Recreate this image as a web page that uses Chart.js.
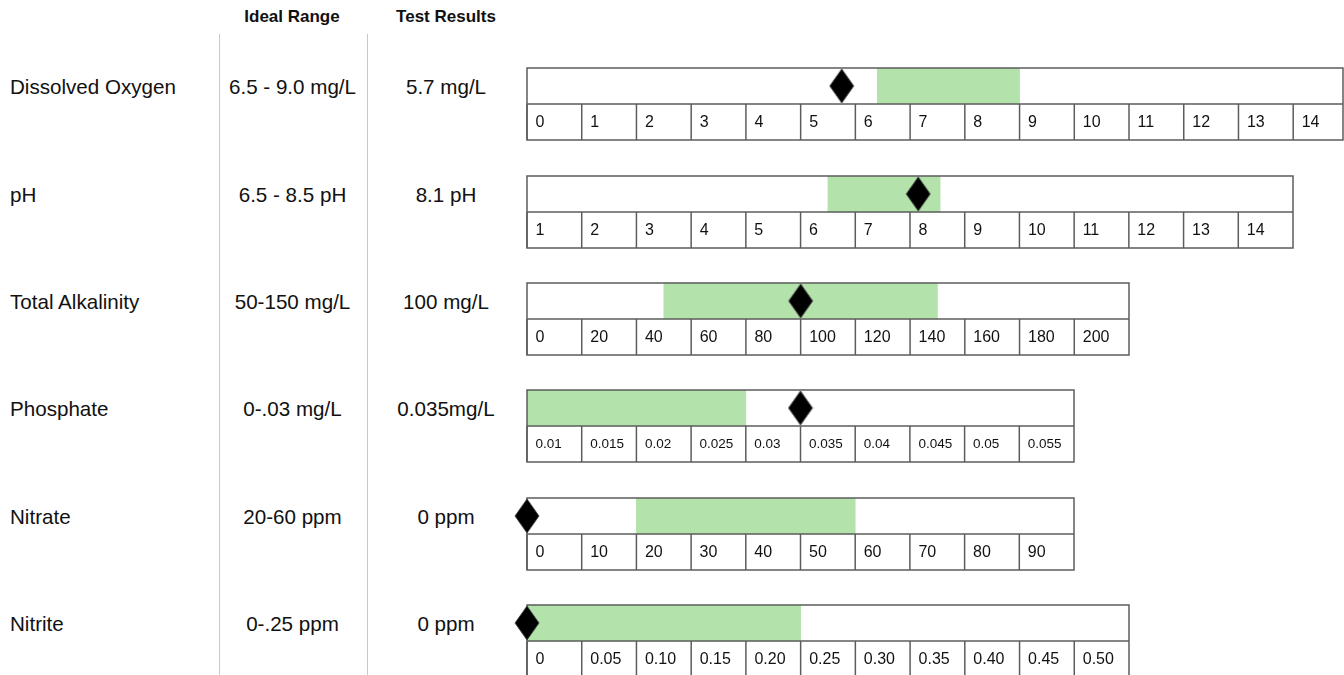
<!DOCTYPE html>
<html><head><meta charset="utf-8">
<script src="https://cdn.jsdelivr.net/npm/chart.js@4"></script>
<style>
html,body{margin:0;padding:0;width:1344px;height:675px;overflow:hidden;background:#fff;font-family:"Liberation Sans",Arial,Helvetica,sans-serif;color:#111;}
.t{position:absolute;white-space:nowrap;height:30px;line-height:30px;}
.c{transform:translateX(-50%);}
.h{font-weight:bold;font-size:17px;}
.r{font-size:20.6px;}
.vl{position:absolute;width:1px;background:#c8c8c8;top:34px;height:641px;}
.g{position:absolute;}
</style></head><body>
<div id="root"></div>
<script>
// ---- data ----
const headers = ['Ideal Range', 'Test Results'];
const rowNames = ['Dissolved Oxygen', 'pH', 'Total Alkalinity', 'Phosphate', 'Nitrate', 'Nitrite'];
const idealRangeText = ['6.5 - 9.0 mg/L', '6.5 - 8.5 pH', '50-150 mg/L', '0-.03 mg/L', '20-60 ppm', '0-.25 ppm'];
const testResultText = ['5.7 mg/L', '8.1 pH', '100 mg/L', '0.035mg/L', '0 ppm', '0 ppm'];
const idealLow  = [6.4, 6.5, 50, 0, 20, 0];
const idealHigh = [9.0, 8.55, 150, 0.03, 60, 0.25];
const testValues = [5.75, 8.15, 100, 0.035, 0, 0];
const doTicks = ['0','1','2','3','4','5','6','7','8','9','10','11','12','13','14'];
const phTicks = ['1','2','3','4','5','6','7','8','9','10','11','12','13','14'];
const alkTicks = ['0','20','40','60','80','100','120','140','160','180','200'];
const phosTicks = ['0.01','0.015','0.02','0.025','0.03','0.035','0.04','0.045','0.05','0.055'];
const nitrateTicks = ['0','10','20','30','40','50','60','70','80','90'];
const nitriteTicks = ['0','0.05','0.10','0.15','0.20','0.25','0.30','0.35','0.40','0.45','0.50'];
const scaleMin = [0, 1, 0, 0.01, 0, 0];
const scaleMax = [14.91, 15, 220, 0.06, 100, 0.55];
const tickSets = [doTicks, phTicks, alkTicks, phosTicks, nitrateTicks, nitriteTicks];

// ---- layout ----
const CELL_W = 54.7, BOX_LEFT = 527, PAD = 16, BOX_H = 72;
const ROW_TOPS = [67.5, 176, 283, 389.5, 497.5, 605];
const TICK_FONT = [16, 16, 16, 13.5, 16, 16];
const GREEN = '#b3e2aa', LINE = '#5c5c5c';

const root = document.getElementById('root');
function addText(txt, cls, left, cy) {
  const d = document.createElement('div');
  d.className = 't ' + cls;
  d.textContent = txt;
  d.style.left = left + 'px';
  d.style.top = (cy - 15) + 'px';
  root.appendChild(d);
}
addText(headers[0], 'h c', 292, 17);
addText(headers[1], 'h c', 446, 17);
[219, 367].forEach(x => { const v = document.createElement('div'); v.className = 'vl'; v.style.left = x + 'px'; root.appendChild(v); });

function makeDiamond(w, h) {
  const c = document.createElement('canvas');
  c.width = w + 2; c.height = h + 2;
  const x = c.getContext('2d');
  x.beginPath();
  x.moveTo(c.width / 2, 1); x.lineTo(c.width - 1, c.height / 2);
  x.lineTo(c.width / 2, c.height - 1); x.lineTo(1, c.height / 2); x.closePath();
  x.fillStyle = '#000'; x.fill();
  x.strokeStyle = 'rgba(70,70,70,0.9)'; x.lineWidth = 1; x.stroke();
  return c;
}
const diamond = makeDiamond(24, 34);

const cellPlugin = {
  id: 'cells',
  afterDatasetDraw(chart, args, opts) {
    if (args.meta.type !== 'bar') return;
    const ctx = chart.ctx, a = chart.chartArea, xs = chart.scales.x, ys = chart.scales.y;
    const y0 = ys.getPixelForValue(0), y1 = ys.getPixelForValue(1);
    const mid = (y0 + y1) / 2;
    const cellEdge = y1 > y0 ? a.bottom : a.top;
    ctx.save();
    ctx.strokeStyle = LINE; ctx.lineWidth = 1.5;
    ctx.strokeRect(a.left, a.top, a.right - a.left, a.bottom - a.top);
    ctx.beginPath(); ctx.moveTo(a.left, mid); ctx.lineTo(a.right, mid); ctx.stroke();
    ctx.fillStyle = '#111';
    ctx.font = opts.fontSize + 'px "Liberation Sans", Arial, sans-serif';
    ctx.textAlign = 'left'; ctx.textBaseline = 'middle';
    opts.ticks.forEach(t => {
      const px = xs.getPixelForValue(parseFloat(t));
      ctx.beginPath(); ctx.moveTo(px, mid); ctx.lineTo(px, cellEdge); ctx.stroke();
      ctx.fillText(t, px + 8.5, (mid + cellEdge) / 2 + 0.5);
    });
    ctx.restore();
  }
};

rowNames.forEach((name, i) => {
  const cy = ROW_TOPS[i] + 19;
  addText(name, 'r', 10, cy);
  addText(idealRangeText[i], 'r c', 292.5, cy);
  addText(testResultText[i], 'r c', 446, cy);

  const ticks = tickSets[i];
  const step = parseFloat(ticks[1]) - parseFloat(ticks[0]);
  const span = (scaleMax[i] - scaleMin[i]) / step;
  const w = Math.round(span * CELL_W) + 2 * PAD;
  const h = BOX_H + 2 * PAD;
  const cv = document.createElement('canvas');
  cv.width = w; cv.height = h;
  cv.className = 'g';
  cv.style.left = (BOX_LEFT - PAD) + 'px';
  cv.style.top = (ROW_TOPS[i] - PAD) + 'px';
  cv.style.width = w + 'px'; cv.style.height = h + 'px';
  root.appendChild(cv);

  new Chart(cv, {
    type: 'bar',
    data: {
      labels: ['range', 'cells'],
      datasets: [
        { type: 'scatter', data: [{ x: testValues[i], y: 'range' }], pointStyle: diamond,
          radius: 12, hoverRadius: 12, clip: false, order: 0 },
        { type: 'bar', indexAxis: 'y', data: [[idealLow[i], idealHigh[i]], null],
          backgroundColor: GREEN, borderWidth: 0, barPercentage: 1, categoryPercentage: 1,
          clip: 0, order: 1 }
      ]
    },
    options: {
      responsive: false, animation: false, events: [],
      layout: { padding: PAD },
      plugins: { legend: { display: false }, tooltip: { enabled: false },
        cells: { ticks: ticks, fontSize: TICK_FONT[i] } },
      scales: {
        x: { type: 'linear', min: scaleMin[i], max: scaleMax[i], offset: false, grace: 0, display: false },
        y: { type: 'category', labels: ['range', 'cells'], offset: true, display: false }
      }
    },
    plugins: [cellPlugin]
  });
});
</script>
</body></html>
